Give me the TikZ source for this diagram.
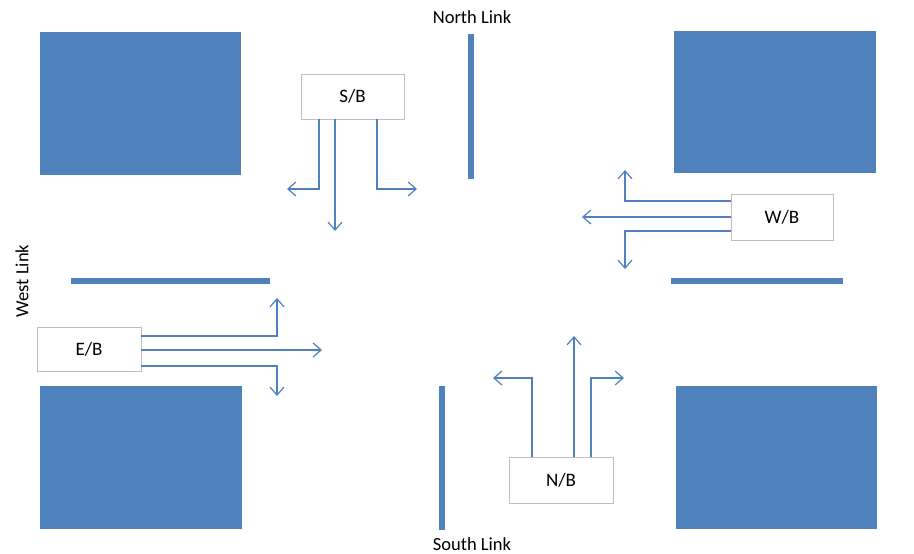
\documentclass[tikz,border=0pt]{standalone}
\usepackage{fontspec}
\setmainfont{Carlito}
\usetikzlibrary{arrows.meta}
\definecolor{blk}{HTML}{4F81BD}
\definecolor{arr}{HTML}{4F81BD}
\definecolor{bord}{HTML}{BFBFBF}
\tikzset{
  block/.style={fill=blk,draw=none},
  bar/.style={draw=blk,line width=6pt},
  dirbox/.style={draw=bord,line width=0.9pt,fill=white,inner sep=0pt,font=\fontsize{19}{22}\selectfont},
  mv/.style={draw=arr,line width=1.3pt,-{Straight Barb[length=8pt,width=14pt,line width=1.2pt]}},
  link/.style={font=\fontsize{18.5}{21}\selectfont,inner sep=0pt}
}
\begin{document}
\begin{tikzpicture}[x=1pt,y=-1pt]
\useasboundingbox (0,0) rectangle (914,554);
% blocks
\fill[block] (40,32) rectangle (241,175);
\fill[block] (674,31) rectangle (876,173);
\fill[block] (40,386) rectangle (242,529);
\fill[block] (676,386) rectangle (877,529);
% stop bars
\draw[bar] (471,34) -- (471,179);
\draw[bar] (442,386) -- (442,530);
\draw[bar] (71,281) -- (270,281);
\draw[bar] (671,281) -- (843,281);
% labels
\node[link] (nl) at (472,17) {North Link};
\node[link] (sl) at (472,544) {South Link};
\node[link,rotate=90] (wl) at (22,281) {West Link};
% boxes
\node[dirbox,minimum width=103pt,minimum height=45pt] (sb) at (352.5,96.5) {S/B};
\node[dirbox,minimum width=102pt,minimum height=46pt] (wb) at (782,217) {W/B};
\node[dirbox,minimum width=104pt,minimum height=44pt] (eb) at (89,349) {E/B};
\node[dirbox,minimum width=104pt,minimum height=46pt] (nb) at (561,480) {N/B};
% S/B movements
\coordinate (s1) at (319,119);
\coordinate (s2) at (335,119);
\coordinate (s3) at (377,119);
\draw[mv] (s1) |- (287,189);
\draw[mv] (s2) -- (335,231);
\draw[mv] (s3) |- (417,189);
% W/B movements
\coordinate (w1) at (731,201);
\coordinate (w2) at (731,217);
\coordinate (w3) at (731,231);
\draw[mv] (w1) -| (625,170);
\draw[mv] (w2) -- (582,217);
\draw[mv] (w3) -| (625,269);
% E/B movements
\coordinate (e1) at (141,336);
\coordinate (e2) at (141,350);
\coordinate (e3) at (141,366);
\draw[mv] (e1) -| (277,298);
\draw[mv] (e2) -- (322,350);
\draw[mv] (e3) -| (277,396);
% N/B movements
\coordinate (n1) at (532,457);
\coordinate (n2) at (574,457);
\coordinate (n3) at (591,457);
\draw[mv] (n1) |- (493,378);
\draw[mv] (n2) -- (574,336);
\draw[mv] (n3) |- (624,378);
\end{tikzpicture}
\end{document}
